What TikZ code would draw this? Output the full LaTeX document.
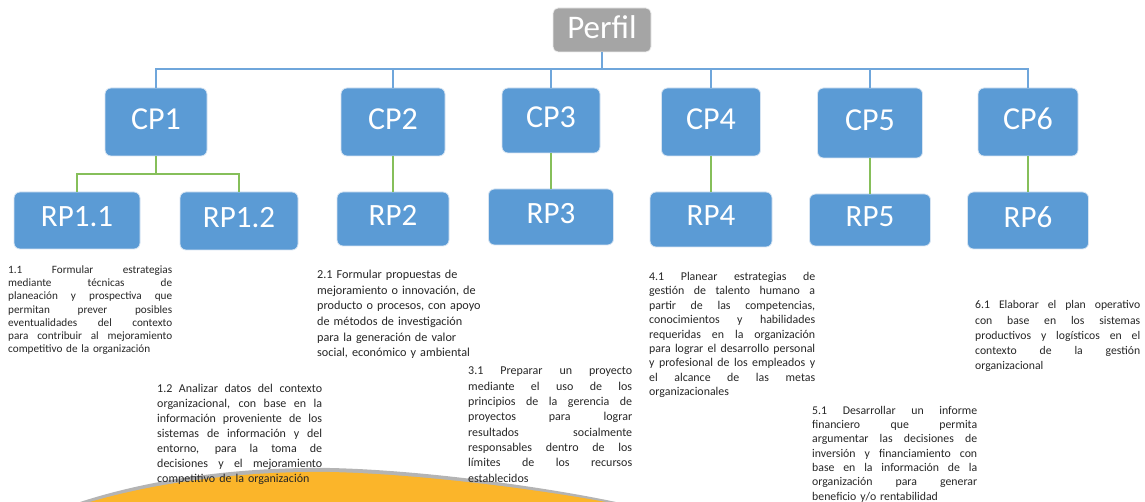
\documentclass[tikz,border=0pt]{standalone}
\usepackage{fontspec}
\setmainfont{Carlito}
\definecolor{boxblue}{HTML}{5B9BD5}
\definecolor{boxedge}{HTML}{D6E4F2}
\definecolor{perfilgray}{HTML}{A5A5A5}
\definecolor{busblue}{HTML}{6FA6DB}
\definecolor{greenline}{HTML}{86BF5A}
\definecolor{textgray}{HTML}{262626}
\definecolor{hillorange}{HTML}{FBB52A}
\definecolor{hillgray}{HTML}{B4B4B4}
\newcommand\bw{164pt}
\newcommand\jl[1]{\makebox[\bw][s]{\spaceskip=0pt\xspaceskip=0pt #1}}
\begin{document}
\begin{tikzpicture}[x=1pt,y=-1pt,
  cpbox/.style={rounded corners=6pt, fill=boxblue, draw=boxedge, line width=0.8pt,
    text=white, inner sep=0pt, text depth=6pt, font=\fontsize{32}{32}\selectfont},
  rpbox/.style={cpbox, text depth=7pt, font=\fontsize{31}{31}\selectfont},
  perfilbox/.style={rounded corners=5pt, fill=perfilgray, draw=white!85!gray, line width=0.8pt,
    text=white, inner sep=0pt, text depth=6pt, font=\fontsize{33}{33}\selectfont},
  bline/.style={draw=busblue, line width=1.3pt},
  gline/.style={draw=greenline, line width=1.3pt},
  txt/.style={anchor=north west, inner sep=0pt, align=left, text=textgray}]
\useasboundingbox (0,0) rectangle (1145,502);
% hill
\fill[hillgray] (80,502) .. controls (160,476) and (250,467) .. (330,468) .. controls (420,470) and (540,486) .. (616,502) -- cycle;
\fill[hillorange] (90,502) .. controls (165,480) and (252,471) .. (330,472) .. controls (420,474) and (535,489) .. (606,502) -- cycle;
% boxes
\node[perfilbox, minimum width=98pt, minimum height=44pt] (perfil) at (602,30) {Perfil};
\node[cpbox, minimum width=102pt, minimum height=68pt] (cp1) at (156,122) {CP1};
\node[cpbox, minimum width=104pt, minimum height=68pt] (cp2) at (393,122) {CP2};
\node[cpbox, minimum width=98pt, minimum height=65pt] (cp3) at (551,120.5) {CP3};
\node[cpbox, minimum width=99pt, minimum height=68pt] (cp4) at (711,122) {CP4};
\node[cpbox, minimum width=105pt, minimum height=70pt] (cp5) at (870,123) {CP5};
\node[cpbox, minimum width=100pt, minimum height=68pt] (cp6) at (1028,122) {CP6};
\node[rpbox, minimum width=126pt, minimum height=57pt] (rp11) at (77,220.5) {RP1.1};
\node[rpbox, minimum width=118pt, minimum height=58pt] (rp12) at (239,221) {RP1.2};
\node[rpbox, minimum width=112pt, minimum height=54pt] (rp2) at (393,219) {RP2};
\node[rpbox, minimum width=125pt, minimum height=56pt] (rp3) at (551,217) {RP3};
\node[rpbox, minimum width=122pt, minimum height=55pt] (rp4) at (711,219.5) {RP4};
\node[rpbox, minimum width=121pt, minimum height=52pt] (rp5) at (870,220) {RP5};
\node[rpbox, minimum width=121pt, minimum height=57pt] (rp6) at (1028,220.5) {RP6};
% connectors
\coordinate (bus) at (0,69);
\coordinate (gbus) at (0,174);
\foreach \c in {cp1,cp2,cp3,cp4,cp5,cp6}
  \draw[bline] (perfil.south) -- (perfil.south |- bus) -| (\c.north);
\draw[gline] (cp1.south) -- (cp1.south |- gbus) -| (rp11.north);
\draw[gline] (cp1.south) -- (cp1.south |- gbus) -| (rp12.north);
\draw[gline] (cp2.south) -- (rp2.north);
\draw[gline] (cp3.south) -- (rp3.north);
\draw[gline] (cp4.south) -- (rp4.north);
\draw[gline] (cp5.south) -- (rp5.north);
\draw[gline] (cp6.south) -- (rp6.north);
% texts
\node[txt, text width=164pt, font=\fontsize{11.2}{13.2}\selectfont\renewcommand\bw{164pt}] (t11) at (8,265.5) {%
\jl{1.1 Formular estrategias}\\
\jl{mediante técnicas de}\\
\jl{planeación y prospectiva que}\\
\jl{permitan prever posibles}\\
\jl{eventualidades del contexto}\\
\jl{para contribuir al mejoramiento}\\
competitivo de la organización};
\node[txt, text width=165pt, font=\fontsize{12}{15}\selectfont\renewcommand\bw{165pt}] (t12) at (157,383.5) {%
\jl{1.2 Analizar datos del contexto}\\
\jl{organizacional, con base en la}\\
\jl{información proveniente de los}\\
\jl{sistemas de información y del}\\
\jl{entorno, para la toma de}\\
\jl{decisiones y el mejoramiento}\\
competitivo de la organización};
\node[txt, text width=180pt, font=\fontsize{12.2}{15.6}\selectfont] (t21) at (317,270) {%
2.1 Formular propuestas de\\
mejoramiento o innovación, de\\
producto o procesos, con apoyo\\
de métodos de investigación\\
para la generación de valor\\
social, económico y ambiental};
\node[txt, text width=164pt, font=\fontsize{12}{15.3}\selectfont\renewcommand\bw{164pt}] (t31) at (468,367) {%
\jl{3.1 Preparar un proyecto}\\
\jl{mediante el uso de los}\\
\jl{principios de la gerencia de}\\
\jl{proyectos para lograr}\\
\jl{resultados socialmente}\\
\jl{responsables dentro de los}\\
\jl{límites de los recursos}\\
establecidos};
\node[txt, text width=166pt, font=\fontsize{11.9}{14.4}\selectfont\renewcommand\bw{166pt}] (t41) at (649,272) {%
\jl{4.1 Planear estrategias de}\\
\jl{gestión de talento humano a}\\
\jl{partir de las competencias,}\\
\jl{conocimientos y habilidades}\\
\jl{requeridas en la organización}\\
\jl{para lograr el desarrollo personal}\\
\jl{y profesional de los empleados y}\\
\jl{el alcance de las metas}\\
organizacionales};
\node[txt, text width=165pt, font=\fontsize{11.8}{14.3}\selectfont\renewcommand\bw{165pt}] (t51) at (812,406) {%
\jl{5.1 Desarrollar un informe}\\
\jl{financiero que permita}\\
\jl{argumentar las decisiones de}\\
\jl{inversión y financiamiento con}\\
\jl{base en la información de la}\\
\jl{organización para generar}\\
beneficio y/o rentabilidad};
\node[txt, text width=165pt, font=\fontsize{11.7}{15.2}\selectfont\renewcommand\bw{165pt}] (t61) at (975,300.5) {%
\jl{6.1 Elaborar el plan operativo}\\
\jl{con base en los sistemas}\\
\jl{productivos y logísticos en el}\\
\jl{contexto de la gestión}\\
organizacional};
\end{tikzpicture}
\end{document}
